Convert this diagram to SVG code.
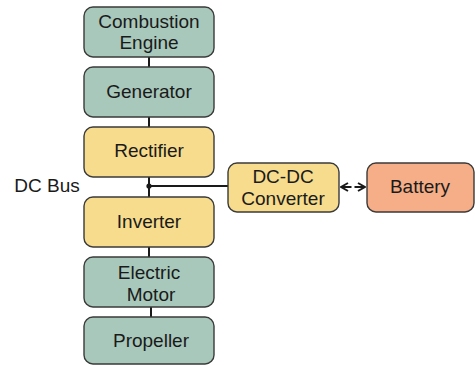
<svg xmlns="http://www.w3.org/2000/svg" width="475" height="365" viewBox="0 0 475 365">
  <defs>
    <style>
      .box { stroke: #3a3a3a; stroke-width: 1.4; }
      .mech { fill: #a8c8bb; }
      .elec { fill: #f6dc8c; }
      .store { fill: #f5ae87; }
      .lbl { font-family: "Liberation Sans", Arial, sans-serif; font-size: 19px; fill: #1a1a1a; text-anchor: middle; }
      .wire { stroke: #1a1a1a; stroke-width: 2; fill: none; }
    </style>
    <marker id="ah" viewBox="0 0 10 10" refX="9" refY="5" markerWidth="5" markerHeight="5" orient="auto-start-reverse">
      <path d="M2,1 L9,5 L2,9" fill="none" stroke="#1a1a1a" stroke-width="2"/>
    </marker>
  </defs>
  <rect width="475" height="365" fill="#ffffff"/>

  <g id="connectors">
    <line class="wire" x1="149" y1="57" x2="149" y2="67"/>
    <line class="wire" x1="149" y1="117" x2="149" y2="127"/>
    <line class="wire" x1="149" y1="177" x2="149" y2="197"/>
    <line class="wire" x1="149" y1="247" x2="149" y2="257"/>
    <line class="wire" x1="151" y1="307" x2="151" y2="317"/>
    <line class="wire" x1="149" y1="186" x2="228" y2="186"/>
    <circle cx="149" cy="186" r="2.6" fill="#1a1a1a"/>
    <line class="wire" x1="341" y1="187" x2="365" y2="187" stroke-dasharray="10.5 3" marker-start="url(#ah)" marker-end="url(#ah)"/>
  </g>

  <g id="dc-bus-label">
    <text class="lbl" x="47" y="192">DC Bus</text>
  </g>

  <g id="combustion-engine">
    <rect class="box mech" x="84" y="7" width="130" height="50" rx="9"/>
    <text class="lbl" x="149" y="28">Combustion</text>
    <text class="lbl" x="149" y="49">Engine</text>
  </g>

  <g id="generator">
    <rect class="box mech" x="84" y="67" width="130" height="50" rx="9"/>
    <text class="lbl" x="149" y="98">Generator</text>
  </g>

  <g id="rectifier">
    <rect class="box elec" x="84" y="127" width="130" height="50" rx="9"/>
    <text class="lbl" x="149" y="157">Rectifier</text>
  </g>

  <g id="inverter">
    <rect class="box elec" x="84" y="197" width="130" height="50" rx="9"/>
    <text class="lbl" x="149" y="228">Inverter</text>
  </g>

  <g id="electric-motor">
    <rect class="box mech" x="84" y="257" width="130" height="50" rx="9"/>
    <text class="lbl" x="149" y="279">Electric</text>
    <text class="lbl" x="151" y="301">Motor</text>
  </g>

  <g id="propeller">
    <rect class="box mech" x="84" y="317" width="130" height="47" rx="9"/>
    <text class="lbl" x="151" y="347">Propeller</text>
  </g>

  <g id="dc-dc-converter">
    <rect class="box elec" x="228" y="163" width="111" height="49" rx="9"/>
    <text class="lbl" x="283" y="183">DC-DC</text>
    <text class="lbl" x="283" y="205">Converter</text>
  </g>

  <g id="battery">
    <rect class="box store" x="367" y="163" width="107" height="49" rx="9"/>
    <text class="lbl" x="420" y="193">Battery</text>
  </g>
</svg>
